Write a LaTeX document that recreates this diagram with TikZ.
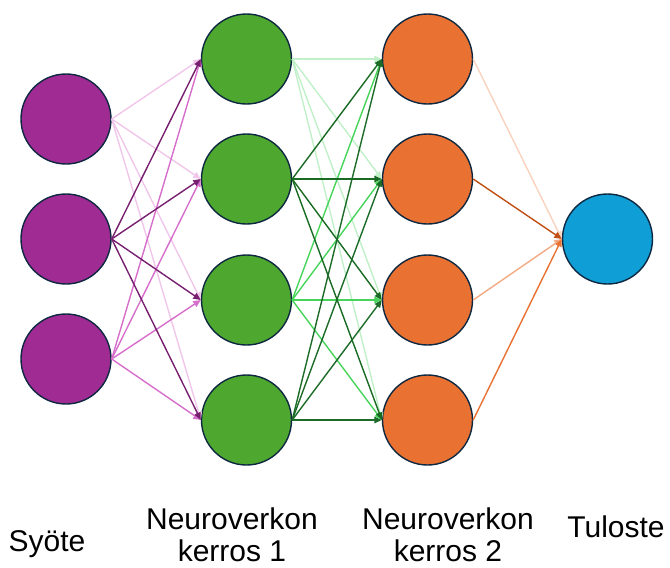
\documentclass[tikz,border=0pt]{standalone}
\usepackage{fontspec}
\setmainfont{Liberation Sans}
\usetikzlibrary{arrows.meta}
\definecolor{cpurple}{HTML}{A02B93}
\definecolor{cgreen}{HTML}{4EA72E}
\definecolor{corange}{HTML}{E97132}
\definecolor{cblue}{HTML}{0F9ED5}
\definecolor{cedge}{HTML}{0E2841}
\definecolor{pA}{HTML}{F0C6EA}
\definecolor{pB}{HTML}{782070}
\definecolor{pC}{HTML}{D66ECB}
\definecolor{gA}{HTML}{C1F0C8}
\definecolor{gB}{HTML}{196B24}
\definecolor{gC}{HTML}{47D45A}
\definecolor{gD}{HTML}{1D6B28}
\definecolor{oA}{HTML}{F9D3BE}
\definecolor{oB}{HTML}{C04F15}
\definecolor{oC}{HTML}{F2AA84}
\definecolor{oD}{HTML}{E97132}
\tikzset{
  neuron/.style={circle, draw=cedge, line width=1.4pt, minimum size=90pt, inner sep=0pt},
  conn/.style={line width=1.4pt, -{Triangle[length=7.5pt,width=6.5pt]}},
  lbl/.style={font=\fontsize{30}{32}\selectfont, align=center, text=black}
}
\begin{document}
\begin{tikzpicture}[x=1pt,y=-1pt]
\useasboundingbox (0,0) rectangle (670,568);
% input
\node[neuron, fill=cpurple] (i1) at (66,119) {};
\node[neuron, fill=cpurple] (i2) at (66,239) {};
\node[neuron, fill=cpurple] (i3) at (66,359) {};
% layer 1
\node[neuron, fill=cgreen] (a1) at (246.5,59) {};
\node[neuron, fill=cgreen] (a2) at (246.5,179) {};
\node[neuron, fill=cgreen] (a3) at (246.5,300) {};
\node[neuron, fill=cgreen] (a4) at (246.5,420) {};
% layer 2
\node[neuron, fill=corange] (b1) at (427.5,59) {};
\node[neuron, fill=corange] (b2) at (427.5,179) {};
\node[neuron, fill=corange] (b3) at (427.5,300) {};
\node[neuron, fill=corange] (b4) at (427.5,420) {};
% output
\node[neuron, fill=cblue] (o1) at (607.5,239) {};
% connectors input -> layer 1
\foreach \t in {1,2,3,4} {\draw[conn, draw=pA, fill=pA] (i1.east) -- (a\t.west);}
\foreach \t in {1,2,3,4} {\draw[conn, draw=pC, fill=pC] (i3.east) -- (a\t.west);}
\foreach \t in {1,2,3,4} {\draw[conn, draw=pB, fill=pB] (i2.east) -- (a\t.west);}
% layer 1 -> layer 2
\foreach \t in {1,2,3,4} {\draw[conn, draw=gA, fill=gA] (a1.east) -- (b\t.west);}
\foreach \t in {1,2,3,4} {\draw[conn, draw=gC, fill=gC] (a3.east) -- (b\t.west);}
\foreach \t in {1,2,3,4} {\draw[conn, draw=gB, fill=gB] (a2.east) -- (b\t.west);}
\foreach \t in {1,2,3,4} {\draw[conn, draw=gD, fill=gD] (a4.east) -- (b\t.west);}
% layer 2 -> output
\draw[conn, draw=oA, fill=oA] (b1.east) -- (o1.west);
\draw[conn, draw=oC, fill=oC] (b3.east) -- (o1.west);
\draw[conn, draw=oD, fill=oD] (b4.east) -- (o1.west);
\draw[conn, draw=oB, fill=oB] (b2.east) -- (o1.west);
% labels
\node[lbl, anchor=base] (l1) at (47,551) {Syöte};
\node[lbl, anchor=base] (l2) at (232,561) {Neuroverkon\\kerros 1};
\node[lbl, anchor=base] (l3) at (448,561) {Neuroverkon\\kerros 2};
\node[lbl, anchor=base] (l4) at (616,537) {Tuloste};
\end{tikzpicture}
\end{document}
